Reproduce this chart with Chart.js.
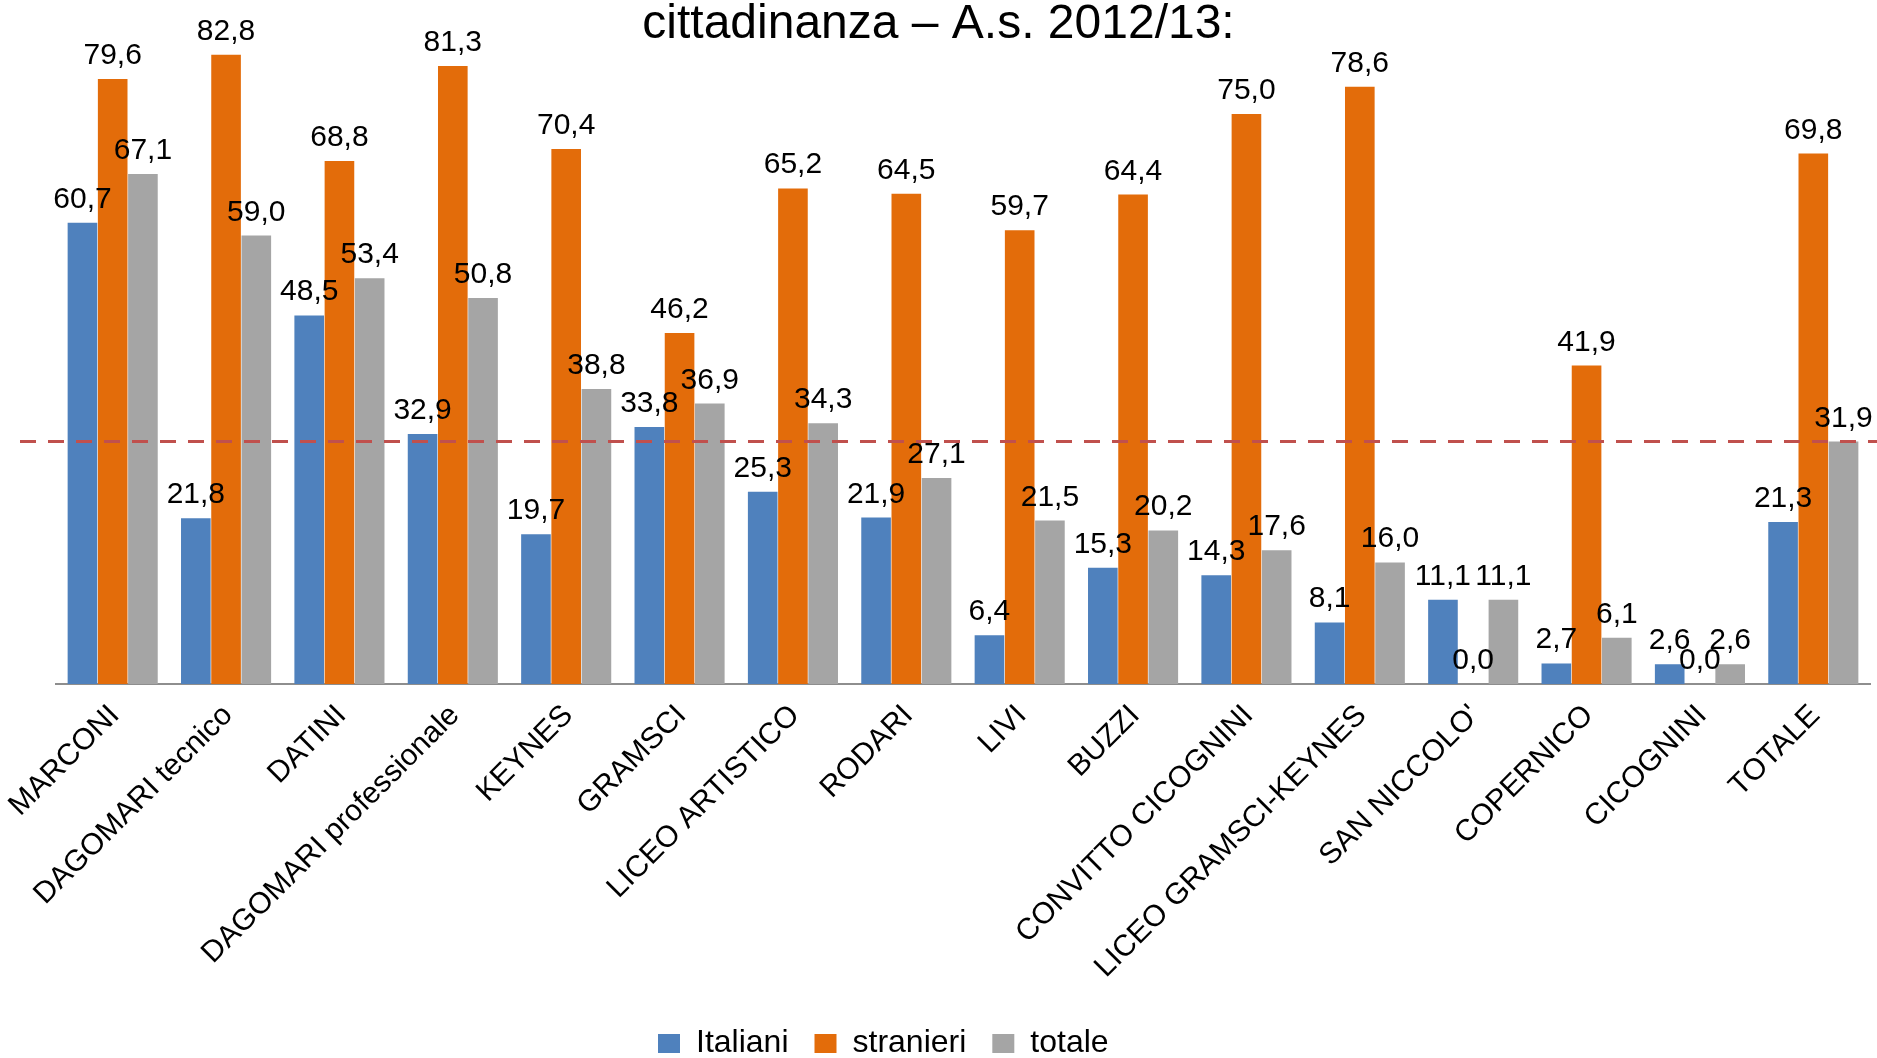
<!DOCTYPE html>
<html lang="it">
<head>
    <meta charset="UTF-8">
    <title>cittadinanza – A.s. 2012/13</title>
    <script src="https://cdn.jsdelivr.net/npm/chart.js"></script>
    <style>
        html, body { margin: 0; padding: 0; background: #fff; }
        #chart { display: block; }
    </style>
</head>
<body>
    <canvas id="chart" width="1877" height="1058"></canvas>

    <script>
        // Data
        const scuole = ["MARCONI", "DAGOMARI tecnico", "DATINI", "DAGOMARI professionale", "KEYNES",
            "GRAMSCI", "LICEO ARTISTICO", "RODARI", "LIVI", "BUZZI", "CONVITTO CICOGNINI",
            "LICEO GRAMSCI-KEYNES", "SAN NICCOLO'", "COPERNICO", "CICOGNINI", "TOTALE"];
        const italiani = [60.7, 21.8, 48.5, 32.9, 19.7, 33.8, 25.3, 21.9, 6.4, 15.3, 14.3, 8.1, 11.1, 2.7, 2.6, 21.3];
        const stranieri = [79.6, 82.8, 68.8, 81.3, 70.4, 46.2, 65.2, 64.5, 59.7, 64.4, 75.0, 78.6, 0.0, 41.9, 0.0, 69.8];
        const totale = [67.1, 59.0, 53.4, 50.8, 38.8, 36.9, 34.3, 27.1, 21.5, 20.2, 17.6, 16.0, 11.1, 6.1, 2.6, 31.9];
        const titolo = "cittadinanza – A.s. 2012/13:";

        const FONT = "'Liberation Sans', Arial, sans-serif";
        const fmt = v => v.toFixed(1).replace(".", ",");

        // title line (the top of the original title is cut off)
        const titlePlugin = {
            id: "titleLine",
            afterDraw(chart) {
                const ctx = chart.ctx;
                ctx.save();
                ctx.font = "48px " + FONT;
                ctx.fillStyle = "#000";
                ctx.textAlign = "center";
                ctx.textBaseline = "alphabetic";
                ctx.fillText(titolo, chart.width / 2, 38);
                ctx.restore();
            }
        };

        // red dashed reference line at the overall total + value labels
        const labelsPlugin = {
            id: "valueLabels",
            afterDatasetsDraw(chart) {
                const ctx = chart.ctx;
                const y = chart.scales.y.getPixelForValue(totale[totale.length - 1]);
                ctx.save();
                ctx.strokeStyle = "#C0504D";
                ctx.lineWidth = 3;
                ctx.setLineDash([16, 12]);
                ctx.beginPath();
                ctx.moveTo(chart.chartArea.left - 36, y);
                ctx.lineTo(chart.width, y);
                ctx.stroke();
                ctx.restore();

                ctx.save();
                ctx.font = "30px " + FONT;
                ctx.fillStyle = "#000";
                ctx.textAlign = "center";
                ctx.textBaseline = "alphabetic";
                chart.data.datasets.forEach((ds, i) => {
                    chart.getDatasetMeta(i).data.forEach((bar, j) => {
                        ctx.fillText(fmt(ds.data[j]), bar.x, bar.y - 15);
                    });
                });
                ctx.restore();
            }
        };

        // place the legend where the original has it (left of centre, near the bottom)
        const LEGEND_X = 658, LEGEND_BOX_TOP = 1034;
        const legendPlace = {
            id: "legendPlace",
            afterLayout(chart) {
                const lg = chart.legend;
                const o = lg.options.labels;
                const dx = LEGEND_X - (lg.left + o.padding);
                const dy = LEGEND_BOX_TOP - (lg.top + o.padding + (o.font.size - o.boxHeight) / 2);
                lg.left += dx; lg.right += dx;
                lg.top += dy; lg.bottom += dy;
            }
        };

        new Chart(document.getElementById("chart"), {
            type: "bar",
            data: {
                labels: scuole,
                datasets: [
                    { label: "Italiani", data: italiani, backgroundColor: "#4F81BD" },
                    { label: "stranieri", data: stranieri, backgroundColor: "#E36C0A" },
                    { label: "totale", data: totale, backgroundColor: "#A5A5A5" }
                ]
            },
            options: {
                responsive: false,
                animation: false,
                devicePixelRatio: 1,
                datasets: {
                    bar: { categoryPercentage: 0.8, barPercentage: 0.98 }
                },
                layout: { padding: { left: 56, right: 7, top: 0, bottom: 0 } },
                scales: {
                    x: {
                        grid: { display: false, drawTicks: false },
                        border: { display: true, color: "#8E8E8E", width: 2 },
                        ticks: {
                            autoSkip: false,
                            maxRotation: 45,
                            minRotation: 45,
                            labelOffset: 2,
                            padding: 14,
                            color: "#000",
                            font: { family: FONT, size: 30 }
                        },
                        afterFit(scale) {
                            scale.height = 306;
                            scale.paddingLeft = 0;
                            scale.paddingRight = 0;
                        }
                    },
                    y: {
                        display: false,
                        min: 0,
                        max: 90
                    }
                },
                plugins: {
                    legend: {
                        position: "bottom",
                        align: "start",
                        labels: {
                            boxWidth: 22,
                            boxHeight: 19,
                            padding: 26,
                            color: "#000",
                            font: { family: FONT, size: 32 }
                        }
                    },
                    tooltip: { enabled: false }
                }
            },
            plugins: [titlePlugin, labelsPlugin, legendPlace]
        });
    </script>
</body>
</html>
